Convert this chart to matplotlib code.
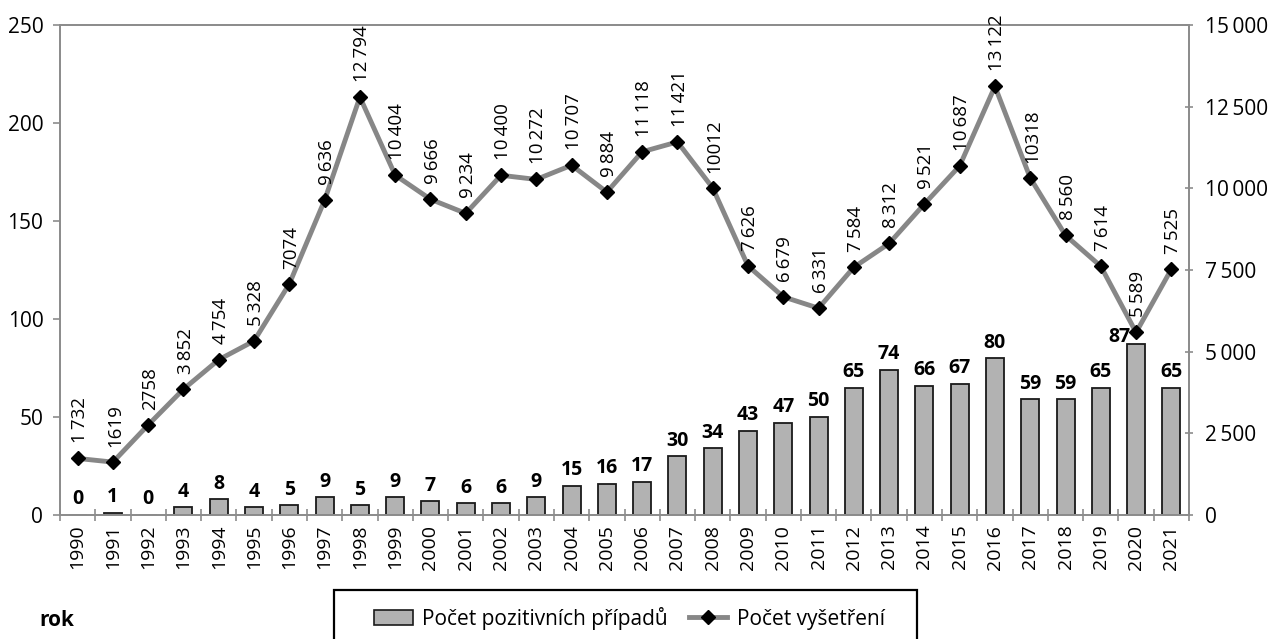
import numpy as np
import matplotlib
matplotlib.use("Agg")
import matplotlib.pyplot as plt
from matplotlib.lines import Line2D
from matplotlib.patches import Patch, Rectangle

plt.rcParams['font.family'] = ['Open Sans', 'DejaVu Sans']

# data
years = [str(y) for y in range(1990, 2022)]
positive = [0, 1, 0, 4, 8, 4, 5, 9, 5, 9, 7, 6, 6, 9, 15, 16, 17, 30, 34, 43,
            47, 50, 65, 74, 66, 67, 80, 59, 59, 65, 87, 65]
exams = [1732, 1619, 2758, 3852, 4754, 5328, 7074, 9636, 12794, 10404, 9666,
         9234, 10400, 10272, 10707, 9884, 11118, 11421, 10012, 7626, 6679,
         6331, 7584, 8312, 9521, 10687, 13122, 10318, 8560, 7614, 5589, 7525]
exam_labels = ["1 732", "1619", "2758", "3 852", "4 754", "5 328", "7074",
               "9 636", "12 794", "10 404", "9 666", "9 234", "10 400",
               "10 272", "10 707", "9 884", "11 118", "11 421", "10012",
               "7 626", "6 679", "6 331", "7 584", "8 312", "9 521", "10 687",
               "13 122", "10318", "8 560", "7 614", "5 589", "7 525"]
left_ticks = [0, 50, 100, 150, 200, 250]
right_ticks = [0, 2500, 5000, 7500, 10000, 12500, 15000]
right_tick_labels = ["0", "2 500", "5 000", "7 500", "10 000", "12 500", "15 000"]

TS = '\u2009'  # thin space like the original
spine_c = '#8c8c8c'
W, H = 1276, 639
fig = plt.figure(figsize=(W/100, H/100), dpi=100)
ax = fig.add_axes([60/W, 1-515/H, 1129/W, 490/H])
ax2 = ax.twinx()

x = np.arange(len(years))
ax.bar(x, positive, width=0.51, color='#b2b2b2', edgecolor='#1a1a1a', linewidth=1.3, zorder=2)

ax2.plot(x, exams, color='#878787', lw=3.5, marker='D', ms=7.5, mfc='black', mec='black', zorder=3)
for xi, v, s in zip(x, exams, exam_labels):
    ax2.annotate(s.replace(' ', TS), (xi, v), xytext=(1.5, 11), textcoords='offset points',
                 ha='center', va='bottom', rotation=90, fontsize=13.5)

# bar labels go on the top axes so the line doesn't hide them;
# 2020 label is pushed left of the marker as in the original
for xi, v, yr in zip(x, positive, years):
    if yr == '2020':
        off, ha = (-4, -2), 'right'
    else:
        off, ha = (0, 4), 'center'
    ax2.annotate(str(v), (xi, v), xycoords=ax.transData, xytext=off,
                 textcoords='offset points', ha=ha, va='bottom',
                 fontsize=14, fontweight='bold', zorder=5)

ax.set_xlim(-0.5, len(years) - 0.5)
ax.set_ylim(0, 250)
ax2.set_ylim(0, 15000)
ax.set_yticks(left_ticks)
ax.set_yticklabels([str(t) for t in left_ticks], fontsize=15)
ax2.set_yticks(right_ticks)
ax2.set_yticklabels([t.replace(' ', TS) for t in right_tick_labels], fontsize=15)

ax.set_xticks(x)
ax.set_xticklabels(years, rotation=90, fontsize=14)
ax.set_xticks(np.arange(-0.5, len(years)), minor=True)
ax.tick_params(axis='x', which='major', length=0, pad=7)
ax.tick_params(axis='x', which='minor', length=8.6, direction='inout', color=spine_c, width=1.2)
ax.tick_params(axis='y', length=5, direction='out', color=spine_c, width=1.2, pad=7)
ax2.tick_params(axis='y', length=6, direction='inout', color=spine_c, width=1.2, pad=8.5)

for a in (ax, ax2):
    for sp in a.spines.values():
        sp.set_color(spine_c)
        sp.set_linewidth(1.3)

# legend: frame drawn separately so it can run off the bottom edge like the original
handles = [Patch(facecolor='#b2b2b2', edgecolor='#1a1a1a', linewidth=1.2),
           Line2D([], [], color='#878787', lw=3.5, marker='D', ms=7.5, mfc='black', mec='black')]
fig.legend(handles, ['Počet pozitivních případů', 'Počet vyšetření'],
           loc='center', bbox_to_anchor=(629.5/W, 1-618/H), ncol=2,
           fontsize=15, frameon=False, handlelength=1.85, handletextpad=0.45,
           columnspacing=1.0, borderpad=0)
fig.patches.append(Rectangle((334/W, -10/H), 583/W, (49+10)/H, transform=fig.transFigure,
                             fill=False, edgecolor='black', linewidth=1.6))

fig.text(39/W, 1-620/H, 'rok', fontsize=15, fontweight='bold', va='center', ha='left')

fig.savefig('out.png', dpi=100)
